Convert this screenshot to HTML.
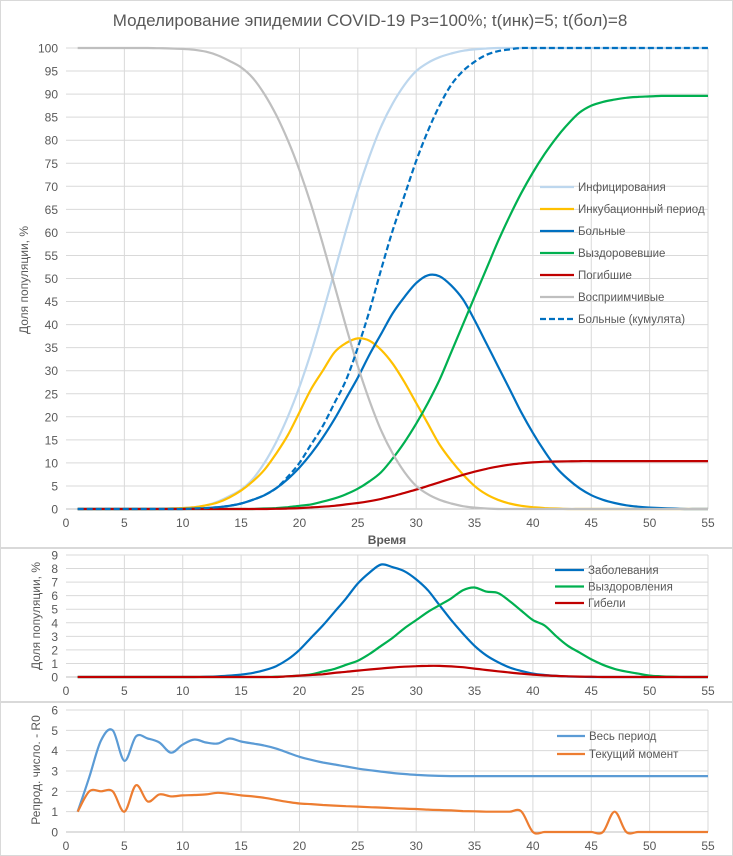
<!DOCTYPE html>
<html><head><meta charset="utf-8"><style>
body{margin:0;background:#fff}
svg{display:block;font-family:"Liberation Sans","DejaVu Sans",sans-serif}
</style></head><body>
<svg id="c" width="733" height="856" viewBox="0 0 733 856"></svg>
<script>
const days=[];for(let i=1;i<=55;i++)days.push(i);
const susceptible=[100,100,100,100,100,100,100,99.95,99.9,99.8,99.6,99.2,98.4,97.2,95.8,93.5,90,85.5,80,73.5,66,57.5,48.5,39.5,31,23.5,17,12,8,5,3.2,2,1.2,0.6,0.3,0.1,0,0,0,0,0,0,0,0,0,0,0,0,0,0,0,0,0,0,0];
const infected=susceptible.map(v=>100-v);
const incubation=[0,0,0,0,0,0,0,0,0.1,0.2,0.4,0.8,1.4,2.5,4,6,8.5,12,16,21,26,30,34,36,37,36.5,34.5,31.5,27.5,23,18.5,14,10.5,7.5,5,3.2,2,1.2,0.7,0.4,0.2,0.1,0,0,0,0,0,0,0,0,0,0,0,0,0];
const sick=[0,0,0,0,0,0,0,0,0,0,0.1,0.2,0.4,0.7,1.2,2,3,4.5,6.5,9,12,15.5,19.5,24,28.5,33.5,38,42.5,46,49,50.7,50.5,48.5,45.5,41,36,31,26,21,16.5,12.5,9,6.5,4.5,3,2,1.3,0.8,0.5,0.3,0.2,0.1,0,0,0];
const sickCum=[0,0,0,0,0,0,0,0,0,0,0.1,0.2,0.4,0.7,1.2,2,3,4.5,7,10,14,18,23,28,35,43,52,60.5,68,75.5,82,87.5,92,95,97,98.5,99.3,99.7,100,100,100,100,100,100,100,100,100,100,100,100,100,100,100,100,100];
const recovered=[0,0,0,0,0,0,0,0,0,0,0,0,0,0,0,0,0.1,0.2,0.4,0.7,1,1.6,2.3,3.2,4.4,6,8,11,14.5,18.5,23,28,34,40,46,52,58,63.5,68.5,73,77,80.5,83.5,86,87.5,88.3,88.8,89.2,89.4,89.5,89.6,89.6,89.6,89.6,89.6];
const deaths=[0,0,0,0,0,0,0,0,0,0,0,0,0,0,0,0,0,0.05,0.1,0.2,0.35,0.5,0.7,1,1.3,1.7,2.2,2.8,3.5,4.2,5,5.8,6.6,7.4,8.1,8.7,9.2,9.6,9.9,10.1,10.25,10.3,10.35,10.4,10.4,10.4,10.4,10.4,10.4,10.4,10.4,10.4,10.4,10.4,10.4];
const newCases=[0,0,0,0,0,0,0,0,0,0,0,0.02,0.05,0.1,0.18,0.3,0.5,0.8,1.3,2,2.9,3.8,4.8,5.8,6.9,7.7,8.3,8.1,7.8,7.2,6.4,5.3,4.2,3.2,2.3,1.6,1.1,0.7,0.45,0.25,0.15,0.08,0.04,0.02,0,0,0,0,0,0,0,0,0,0,0];
const newRecov=[0,0,0,0,0,0,0,0,0,0,0,0,0,0,0,0,0,0.02,0.05,0.1,0.2,0.4,0.6,0.9,1.2,1.7,2.3,2.9,3.6,4.2,4.8,5.3,5.8,6.4,6.6,6.3,6.2,5.6,4.9,4.2,3.8,3,2.3,1.8,1.3,0.9,0.6,0.4,0.25,0.1,0.05,0.02,0,0,0];
const newDeaths=[0,0,0,0,0,0,0,0,0,0,0,0,0,0,0,0,0,0,0.05,0.1,0.15,0.2,0.3,0.38,0.47,0.55,0.63,0.7,0.76,0.8,0.82,0.82,0.78,0.72,0.62,0.52,0.42,0.33,0.25,0.18,0.12,0.08,0.05,0.03,0.02,0,0,0,0,0,0,0,0,0,0];
const r0All=[1,2.7,4.5,5.0,3.5,4.7,4.6,4.4,3.9,4.3,4.55,4.4,4.35,4.6,4.45,4.35,4.25,4.1,3.9,3.7,3.55,3.42,3.32,3.22,3.12,3.04,2.97,2.9,2.85,2.81,2.78,2.76,2.75,2.75,2.75,2.75,2.75,2.75,2.75,2.75,2.75,2.75,2.75,2.75,2.75,2.75,2.75,2.75,2.75,2.75,2.75,2.75,2.75,2.75,2.75];
const r0Now=[1,2.0,2.0,2.0,1.0,2.3,1.5,1.85,1.75,1.8,1.82,1.85,1.93,1.88,1.8,1.75,1.68,1.58,1.48,1.4,1.37,1.33,1.3,1.27,1.25,1.22,1.2,1.17,1.15,1.13,1.1,1.08,1.06,1.03,1.02,1.0,1.0,1.0,1.02,0,0,0,0,0,0,0,1.0,0,0,0,0,0,0,0,0];
const xTicks=[0,5,10,15,20,25,30,35,40,45,50,55];

const NS="http://www.w3.org/2000/svg";
const svg=document.getElementById('c');
function el(t,a,p){const e=document.createElementNS(NS,t);for(const k in a)e.setAttribute(k,a[k]);(p||svg).appendChild(e);return e;}
function txt(s,a,p){const e=el('text',a,p);e.textContent=s;return e;}
function smooth(pts){let d='M'+pts[0][0]+','+pts[0][1];for(let i=0;i<pts.length-1;i++){const p0=pts[i-1]||pts[i],p1=pts[i],p2=pts[i+1],p3=pts[i+2]||p2;const c1x=p1[0]+(p2[0]-p0[0])/6,c1y=p1[1]+(p2[1]-p0[1])/6,c2x=p2[0]-(p3[0]-p1[0])/6,c2y=p2[1]-(p3[1]-p1[1])/6;d+=`C${c1x.toFixed(1)},${c1y.toFixed(1)} ${c2x.toFixed(1)},${c2y.toFixed(1)} ${p2[0].toFixed(1)},${p2[1].toFixed(1)}`;}return d;}

function panel(cfg){
  const g=el('g',{});
  
  
  const r=el('rect',{x:cfg.box[0]+0.5,y:cfg.box[1]+0.5,width:cfg.box[2],height:cfg.box[3],fill:'#fff',stroke:'#d9d9d9'},g);
  
  
  const X0=66,X1=708,sx=v=>X0+(X1-X0)*v/55,sy=v=>cfg.y0+(cfg.y1-cfg.y0)*v/cfg.ymax;
  for(let v=0;v<=cfg.ymax;v+=cfg.ystep){
    const gl=el('line',{x1:X0,x2:X1,y1:sy(v),y2:sy(v),stroke:v===0?'#bfbfbf':'#d9d9d9','stroke-width':1},g);
    
    
    const t=txt(String(v),{x:X0-8,y:sy(v)+4.5,'text-anchor':'end','font-size':12,fill:'#595959'},g);
    
    
  }
  xTicks.forEach(v=>{
    if(v>0){const gl=el('line',{x1:sx(v),x2:sx(v),y1:cfg.y1,y2:cfg.y0,stroke:'#d9d9d9'},g);
    
    }
    const t=txt(String(v),{x:sx(v),y:cfg.y0+18,'text-anchor':'middle','font-size':12,fill:'#595959'},g);
    
    
  });
  const yt=txt(cfg.ytitle,{transform:`translate(${cfg.ytx},${cfg.yty}) rotate(-90)`,'text-anchor':'middle','font-size':12,fill:'#595959'},g);
  
  
  cfg.series.forEach(s=>{
    const p=el('path',{d:smooth(days.map((d,i)=>[sx(d),sy(s.data[i])])),fill:'none',stroke:s.color,'stroke-width':2.2,'stroke-dasharray':s.dash||'none','stroke-linejoin':'round'},g);
    
    
  });
  cfg.series.forEach((s,i)=>{
    const ly=cfg.leg[1]+i*cfg.leg[3];
    const lg=el('g',{},g);
    
    
    el('line',{x1:cfg.leg[0],x2:cfg.leg[0]+cfg.leg[2],y1:ly,y2:ly,stroke:s.color,'stroke-width':2.2,'stroke-dasharray':s.dash||'none'},lg);
    txt(s.label,{x:cfg.leg[0]+cfg.leg[2]+4,y:ly+4,'font-size':11.5,fill:'#595959'},lg);
  });
  return {sx,sy,g};
}

const topPanel=panel({name:'population-chart',box:[0,0,732,547],y0:509,y1:48,ymax:100,ystep:5,ytitle:'Доля популяции, %',ytx:28,yty:280,leg:[540,187,34,22],
 series:[{id:'infected',data:infected,color:'#bdd7ee',label:'Инфицирования'},
 {id:'incubation',data:incubation,color:'#ffc000',label:'Инкубационный период'},
 {id:'sick',data:sick,color:'#0070c0',label:'Больные'},
 {id:'recovered',data:recovered,color:'#00b050',label:'Выздоровевшие'},
 {id:'deaths',data:deaths,color:'#c00000',label:'Погибшие'},
 {id:'susceptible',data:susceptible,color:'#bfbfbf',label:'Восприимчивые'},
 {id:'sick-cumulative',data:sickCum,color:'#0070c0',dash:'6,3',label:'Больные (кумулята)'}]});
const xt=txt('Время',{x:387,y:544,'text-anchor':'middle','font-size':12,'font-weight':'bold',fill:'#595959'},topPanel.g);



const title=txt('Моделирование эпидемии COVID-19 Рз=100%; t(инк)=5; t(бол)=8',{x:370,y:26,'text-anchor':'middle','font-size':17,fill:'#595959'});



panel({name:'daily-chart',box:[0,548,732,153],y0:677,y1:555,ymax:9,ystep:1,ytitle:'Доля популяции, %',ytx:40,yty:616,leg:[555,570,29,16.5],
 series:[{id:'new-cases',data:newCases,color:'#0070c0',label:'Заболевания'},
 {id:'new-recoveries',data:newRecov,color:'#00b050',label:'Выздоровления'},
 {id:'new-deaths',data:newDeaths,color:'#c00000',label:'Гибели'}]});

panel({name:'r0-chart',box:[0,702,732,153],y0:832,y1:710,ymax:6,ystep:1,ytitle:'Репрод. число. - R0',ytx:40,yty:770,leg:[557,736,28,18],
 series:[{id:'r0-whole-period',data:r0All,color:'#5b9bd5',label:'Весь период'},
 {id:'r0-current',data:r0Now,color:'#ed7d31',label:'Текущий момент'}]});
</script>
</body></html>
